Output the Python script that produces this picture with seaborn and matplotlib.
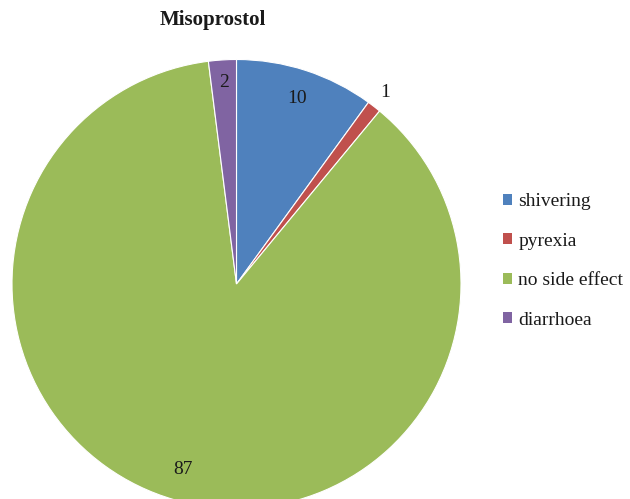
import numpy as np
import matplotlib
matplotlib.use("Agg")
import matplotlib.pyplot as plt
import seaborn as sns
from matplotlib.patches import Patch

categories = ["shivering", "pyrexia", "no side effect", "diarrhoea"]
values = [10, 1, 87, 2]
value_labels = ["10", "1", "87", "2"]
slice_colors = ["#4F81BD", "#C0504D", "#9BBB59", "#8064A2"]

sns.set_theme(style="white")
plt.rcParams["font.family"] = ["Liberation Serif", "DejaVu Serif"]

W, H = 630, 499
fig = plt.figure(figsize=(W / 100, H / 100), dpi=100)
fig.patch.set_facecolor("white")

# pie centre and radius in pixels
cx, cy, r = 236.5, 284.0, 224.5
ax = fig.add_axes([(cx - r) / W, (H - cy - r) / H, 2 * r / W, 2 * r / H])

palette = sns.color_palette(slice_colors)
wedges, _ = ax.pie(values, colors=palette, startangle=90, counterclock=False,
                   radius=1.0, wedgeprops=dict(edgecolor="white", linewidth=0.8))
ax.set_xlim(-1, 1)
ax.set_ylim(-1, 1)
ax.set_aspect("equal")
ax.axis("off")

# value labels placed along each wedge's mid-angle
label_radius = [0.87, 1.08, 0.86, 0.90]
for w, txt, rad in zip(wedges, value_labels, label_radius):
    ang = np.deg2rad((w.theta1 + w.theta2) / 2)
    ax.text(rad * np.cos(ang), rad * np.sin(ang), txt, ha="center", va="center",
            fontsize=14, color="#1a1a1a")

fig.text(213 / W, 1 - 20 / H, "Misoprostol", ha="center", va="center",
         fontsize=15, fontweight="bold", color="#1a1a1a")

handles = [Patch(facecolor=c, edgecolor="none") for c in palette]
leg = fig.legend(handles, categories, loc="center left",
                 bbox_to_anchor=(493 / W, 1 - 261 / H), frameon=False,
                 fontsize=14, handlelength=0.5, handleheight=0.5,
                 handletextpad=0.3, labelspacing=1.15, borderpad=0)
for t in leg.get_texts():
    t.set_color("#1a1a1a")

fig.savefig("out.png", dpi=100, facecolor="white")
